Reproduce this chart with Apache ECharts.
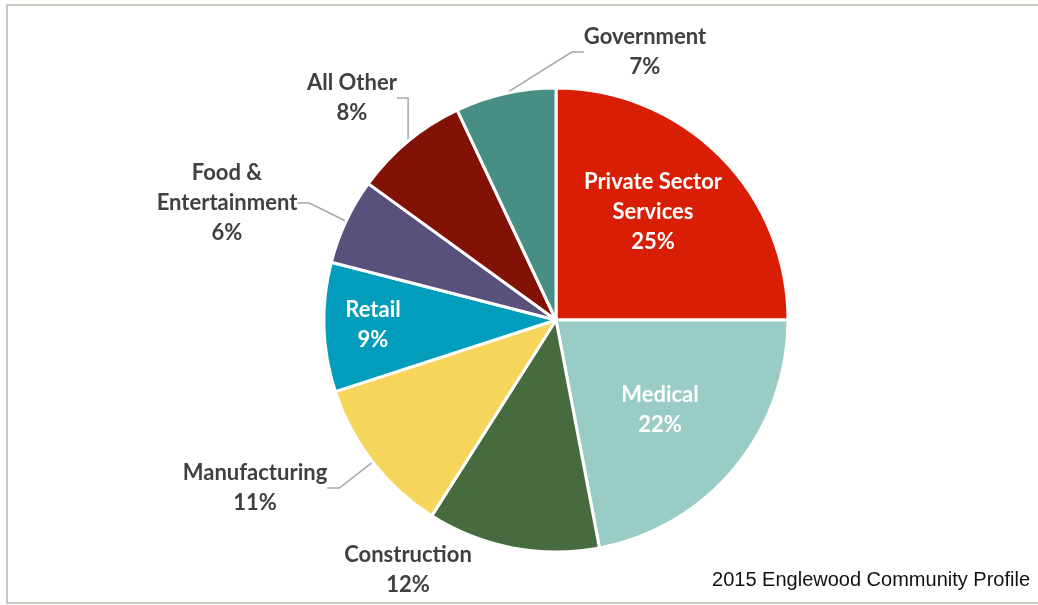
<!DOCTYPE html>
<html>
<head>
<meta charset="utf-8">
<script src="https://cdn.jsdelivr.net/npm/echarts@6/dist/echarts.min.js"></script>
<style>
  html, body { margin: 0; padding: 0; background: #fff; }
  #chart { width: 1038px; height: 605px; }
</style>
</head>
<body>
<div id="chart"></div>
<script>
const sectors = ["Private Sector\nServices", "Medical", "Construction", "Manufacturing", "Retail", "Food &\nEntertainment", "All Other", "Government"];
const shares = [25, 22, 12, 11, 9, 6, 8, 7];
const colors = ["#d81e05", "#99ccc4", "#466b3f", "#f5d55a", "#029cbd", "#59507b", "#821205", "#478f84"];
const insideLabels = ["Private Sector\nServices", "Medical", "Retail"];

// where each label block is centred (label placement only)
const labelSpots = [[653, 212], [660, 410], [408, 570], [255, 488], [373, 325], [227, 203], [352, 98], [645, 52]];

const chart = echarts.init(document.getElementById("chart"));

const labelFont = { fontFamily: "Lato", fontWeight: "bold", fontSize: 22, lineHeight: 30 };

const data = sectors.map((name, i) => {
  const inside = insideLabels.includes(name);
  return {
    name: name,
    value: shares[i],
    itemStyle: { color: colors[i] },
    label: inside
      ? { position: "inside", color: "#fff" }
      : { position: "outside", color: "#404040" },
    labelLine: { show: !inside && name !== "Construction" }
  };
});

chart.setOption({
  animation: false,
  backgroundColor: "#fff",
  graphic: [
    {
      type: "rect",
      shape: { x: 7, y: 5, width: 1060, height: 598 },
      style: { fill: "none", stroke: "#cdc8bf", lineWidth: 2 }
    },
    {
      type: "text",
      right: 8,
      top: 570,
      style: { text: "2015 Englewood Community Profile", font: "20px 'Liberation Sans'", fill: "#111" }
    }
  ],
  series: [
    {
      type: "pie",
      center: [556, 320],
      radius: 232,
      startAngle: 90,
      clockwise: true,
      itemStyle: { borderColor: "#fff", borderWidth: 3 },
      label: {
        formatter: params => params.name.split("\n").map(s => "{a|" + s + "}").join("\n") + "\n{a|" + params.value + "%}",
        rich: { a: Object.assign({ align: "center" }, labelFont) }
      },
      labelLine: { length: 15, length2: 12, lineStyle: { color: "#a6a6a6", width: 1.5 } },
      labelLayout: params => {
        const spot = labelSpots[params.dataIndex];
        return { x: spot[0], y: spot[1], align: "center", verticalAlign: "middle" };
      },
      data: data
    }
  ]
});
</script>
</body>
</html>
